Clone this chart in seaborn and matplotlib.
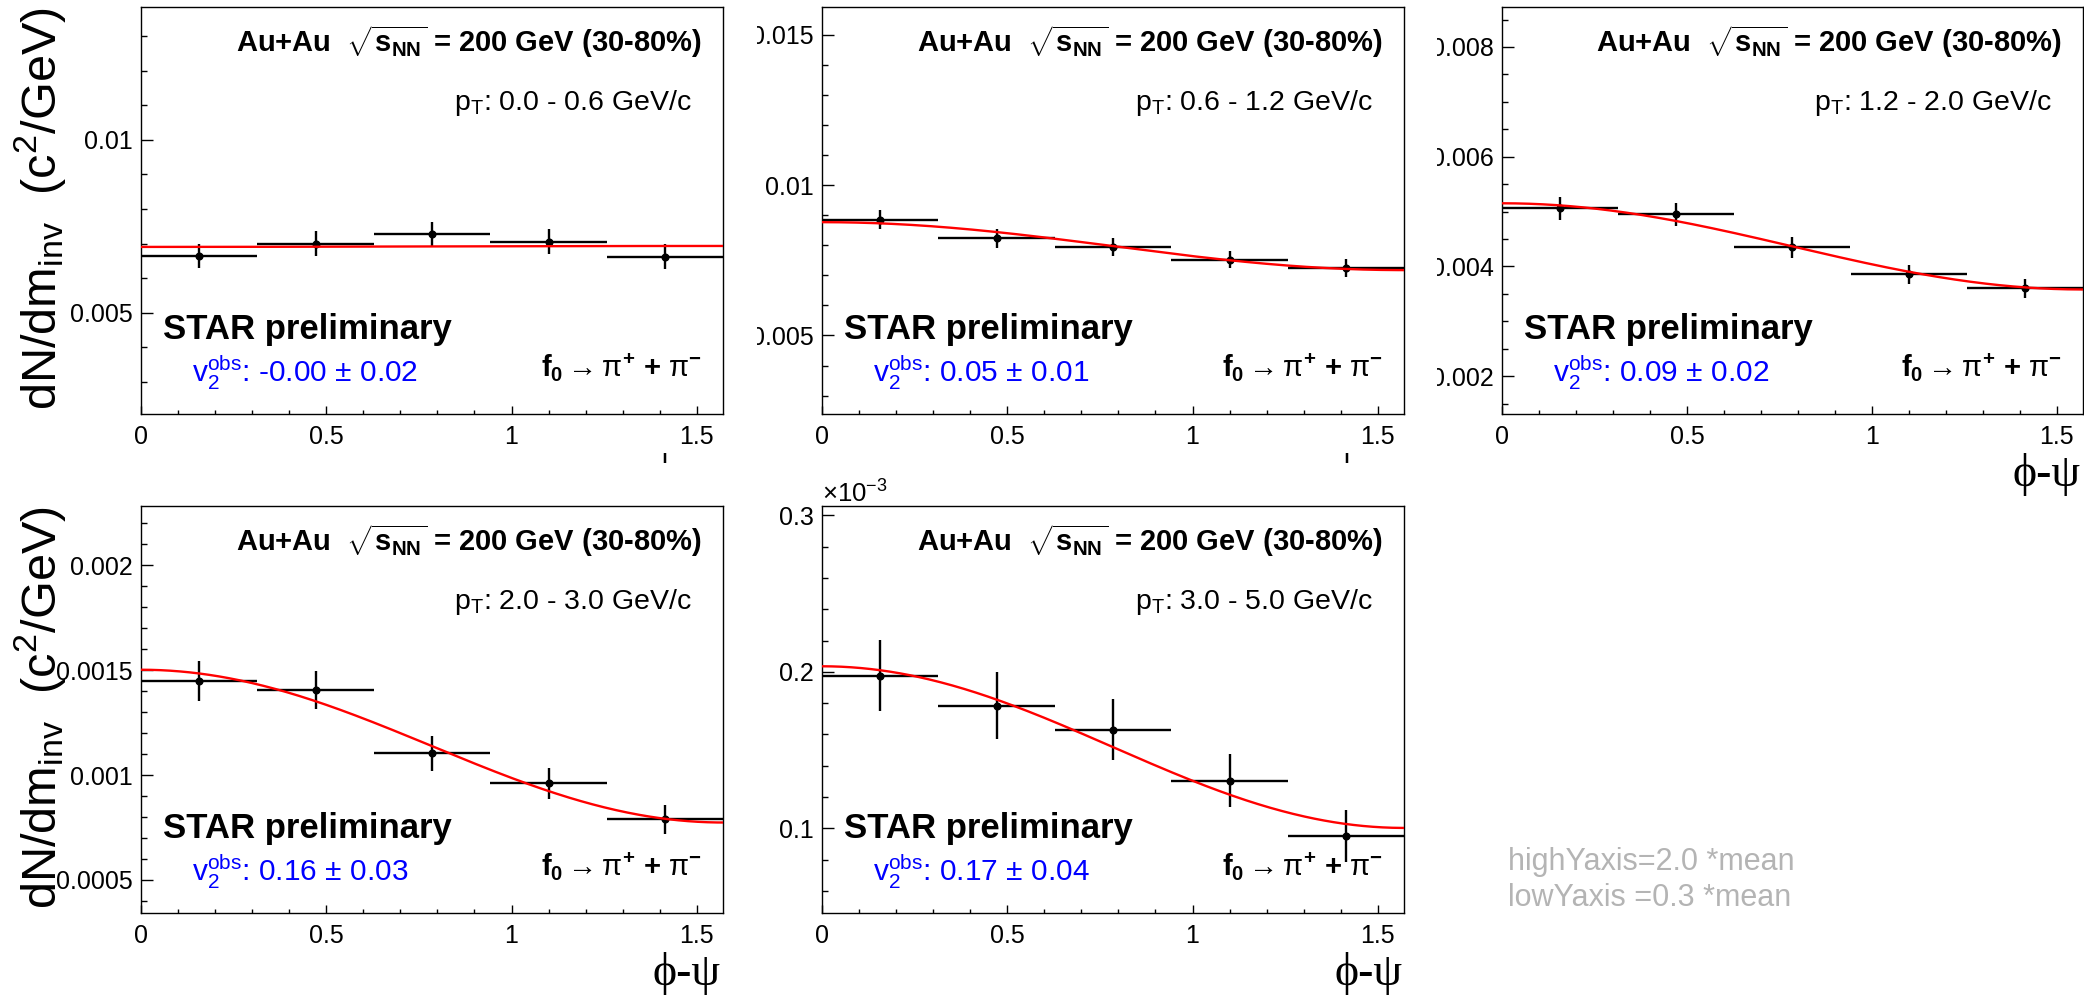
import numpy as np
import pandas as pd
import matplotlib
matplotlib.use("Agg")
import matplotlib.pyplot as plt
import seaborn as sns
from matplotlib.ticker import MultipleLocator, FixedLocator, FuncFormatter
from matplotlib.transforms import Bbox

# ---- data: f0 yield vs (phi - Psi), Au+Au 200 GeV, 30-80% ----
phi_centers = [0.157, 0.471, 0.785, 1.100, 1.414]
phi_halfwidth = [0.157, 0.157, 0.157, 0.157, 0.157]

pt_bins = ["0.0 - 0.6", "0.6 - 1.2", "1.2 - 2.0", "2.0 - 3.0", "3.0 - 5.0"]

yield_pt0 = [0.006647, 0.006994, 0.007274, 0.007061, 0.006628]
err_pt0 = [0.00035, 0.00036, 0.00035, 0.00035, 0.00035]
yield_pt1 = [0.008854, 0.008233, 0.007957, 0.007525, 0.007236]
err_pt1 = [0.00032, 0.00031, 0.00030, 0.00029, 0.00029]
yield_pt2 = [0.005057, 0.004948, 0.004352, 0.003860, 0.003605]
err_pt2 = [0.000207, 0.000207, 0.000190, 0.000173, 0.000173]
yield_pt3 = [0.001448, 0.001405, 0.001105, 0.000960, 0.000789]
err_pt3 = [0.0000952, 0.0000913, 0.0000833, 0.000073, 0.000070]
yield_pt4 = [0.0001976, 0.0001784, 0.0001631, 0.0001305, 0.0000953]
err_pt4 = [0.0000226, 0.0000212, 0.0000196, 0.0000168, 0.0000165]

# fit: N * (1 + 2 v2 cos(2(phi-Psi)))
fit_norm = [0.00692, 0.00797, 0.004365, 0.001138, 0.0001519]
v2_obs = [-0.001, 0.05, 0.09, 0.16, 0.17]
v2_err = [0.02, 0.01, 0.02, 0.03, 0.04]

# axis ranges: highYaxis = 2.0*mean, lowYaxis = 0.3*mean
high_factor = 2.0
low_factor = 0.3

x_major_ticks = [0.0, 0.5, 1.0, 1.5]
y_major_step = [0.005, 0.005, 0.002, 0.0005, 0.0001]
y_minor_step = [0.001, 0.001, 0.0005, 0.0001, 0.00002]

yields = [yield_pt0, yield_pt1, yield_pt2, yield_pt3, yield_pt4]
errors = [err_pt0, err_pt1, err_pt2, err_pt3, err_pt4]

# ---- figure layout (pixels) ----
W, H = 2084, 997
panel_left = [141, 822, 1502, 141, 822]
panel_top = [7, 7, 7, 506, 506]
panel_w = [582, 582, 581, 582, 582]
panel_h = 407

sns.set_theme(style="ticks")
plt.rcParams["font.family"] = ["Liberation Sans", "DejaVu Sans"]
plt.rcParams["mathtext.fontset"] = "custom"
plt.rcParams["mathtext.rm"] = "Liberation Sans"
plt.rcParams["mathtext.it"] = "Liberation Sans:italic"
plt.rcParams["mathtext.bf"] = "Liberation Sans:bold"
plt.rcParams["axes.edgecolor"] = "black"
plt.rcParams["xtick.color"] = "black"
plt.rcParams["ytick.color"] = "black"
plt.rcParams["text.color"] = "black"

fig = plt.figure(figsize=(W / 100, H / 100), dpi=100)
fig.patch.set_facecolor("white")

axes = []
for i in range(5):
    l = panel_left[i] / W
    b = 1 - (panel_top[i] + panel_h) / H
    ax = fig.add_axes([l, b, panel_w[i] / W, panel_h / H])
    ax.set_facecolor("white")
    axes.append(ax)

phi_fine = np.linspace(0, np.pi / 2, 300)
serif = ["Liberation Serif", "DejaVu Serif"]

for i, ax in enumerate(axes):
    y = np.array(yields[i])
    e = np.array(errors[i])
    mean = y.mean()

    ax.errorbar(phi_centers, y, xerr=phi_halfwidth, yerr=e, fmt="o",
                color="black", ms=4.8, elinewidth=1.7, capsize=0, zorder=3)

    fit_df = pd.DataFrame({
        "phi": phi_fine,
        "fit": fit_norm[i] * (1 + 2 * v2_obs[i] * np.cos(2 * phi_fine)),
    })
    sns.lineplot(data=fit_df, x="phi", y="fit", ax=ax, color="red",
                 lw=1.7, estimator=None, zorder=4)

    ax.set_xlim(0, np.pi / 2)
    ax.set_ylim(low_factor * mean, high_factor * mean)
    ax.set_xlabel("")
    ax.set_ylabel("")

    ax.xaxis.set_major_locator(FixedLocator(x_major_ticks))
    ax.xaxis.set_minor_locator(MultipleLocator(0.1))
    ax.xaxis.set_major_formatter(FuncFormatter(lambda v, p: f"{v:g}"))
    ax.yaxis.set_major_locator(MultipleLocator(y_major_step[i]))
    ax.yaxis.set_minor_locator(MultipleLocator(y_minor_step[i]))
    if i == 4:
        ax.yaxis.set_major_formatter(FuncFormatter(lambda v, p: f"{v * 1e3:g}"))
    else:
        ax.yaxis.set_major_formatter(FuncFormatter(lambda v, p: f"{v:g}"))

    ax.tick_params(axis="x", which="major", direction="in", length=5.8,
                   width=1.0, pad=8, labelsize=18, top=False, bottom=True)
    ax.tick_params(axis="x", which="minor", direction="in", length=2.9,
                   width=1.0, top=False, bottom=True)
    ax.tick_params(axis="y", which="major", direction="in", length=8.6,
                   width=1.0, pad=6, labelsize=18, right=False, left=True)
    ax.tick_params(axis="y", which="minor", direction="in", length=4.3,
                   width=1.0, right=False, left=True)
    for sp in ax.spines.values():
        sp.set_visible(True)
        sp.set_linewidth(1.0)
        sp.set_color("black")

    # annotations
    ax.text(0.964, 0.890, r"Au+Au  $\sqrt{\mathbf{s}_{\mathbf{NN}}}$ = 200 GeV (30-80%)",
            transform=ax.transAxes, ha="right", va="baseline",
            fontsize=21, fontweight="bold")
    ax.text(0.947, 0.747, r"p$_{\mathrm{T}}$: " + pt_bins[i] + " GeV/c",
            transform=ax.transAxes, ha="right", va="baseline", fontsize=20.5)
    ax.text(0.038, 0.184, "STAR preliminary", transform=ax.transAxes,
            ha="left", va="baseline", fontsize=25, fontweight="bold")
    ax.text(0.088, 0.079,
            r"v$_{2}^{\mathrm{obs}}$: " + f"{v2_obs[i]:.2f}" + r" $\pm$ " + f"{v2_err[i]:.2f}",
            transform=ax.transAxes, ha="left", va="baseline", fontsize=21.5,
            color="#0000ff")
    ax.text(0.964, 0.090,
            r"$\mathbf{f}_{\mathbf{0}}\rightarrow\mathrm{\pi}^{\mathbf{+}}$ + $\mathrm{\pi}^{\mathbf{-}}$",
            transform=ax.transAxes, ha="right", va="baseline", fontsize=21,
            fontweight="bold")

# y-axis titles
ytitle = r"dN/dm$_{\mathrm{inv}}$  (c$^{2}$/GeV)"
for top in (7, 506):
    fig.text(12 / W, 1 - top / H, ytitle, rotation=90, ha="left", va="top",
             fontsize=35)

# x-axis titles (panels 3, 4, 5 fully shown; the upper-left pads are
# covered by the lower pads, leaving only the tip of the phi stroke)
def xtitle(i, clip=None):
    right = panel_left[i] + panel_w[i] - 2
    top = panel_top[i] + panel_h + 39
    t = fig.text(right / W, 1 - top / H, "ϕ-ψ", ha="right", va="top",
                 fontsize=33, family=serif)
    if clip is not None:
        t.set_clip_box(clip)
        t.set_clip_on(True)

for i in (2, 3, 4):
    xtitle(i)
for i in (0, 1):
    right = panel_left[i] + panel_w[i]
    xtitle(i, clip=Bbox.from_extents(0, H - 463, right - 50, H))

# exponent marker for the last panel
fig.text(panel_left[4] / W, 1 - 503 / H, r"$\times$10$^{-3}$", ha="left",
         va="baseline", fontsize=18.5)

# range note
fig.text(1508 / W, 1 - 862 / H, "highYaxis=2.0 *mean", ha="left", va="center",
         fontsize=22, color="#b4b4b4")
fig.text(1508 / W, 1 - 898 / H, "lowYaxis =0.3 *mean", ha="left", va="center",
         fontsize=22, color="#b4b4b4")

# tick labels of the middle and right pads are cut at the pad edge
fig.canvas.draw()
for i in (1, 2):
    edge = panel_left[i] - 65
    cb = Bbox.from_extents(edge, 0, W, H)
    for tick in axes[i].yaxis.get_major_ticks():
        tick.label1.set_clip_box(cb)
        tick.label1.set_clip_on(True)

fig.savefig("out.png", dpi=100, facecolor="white")
